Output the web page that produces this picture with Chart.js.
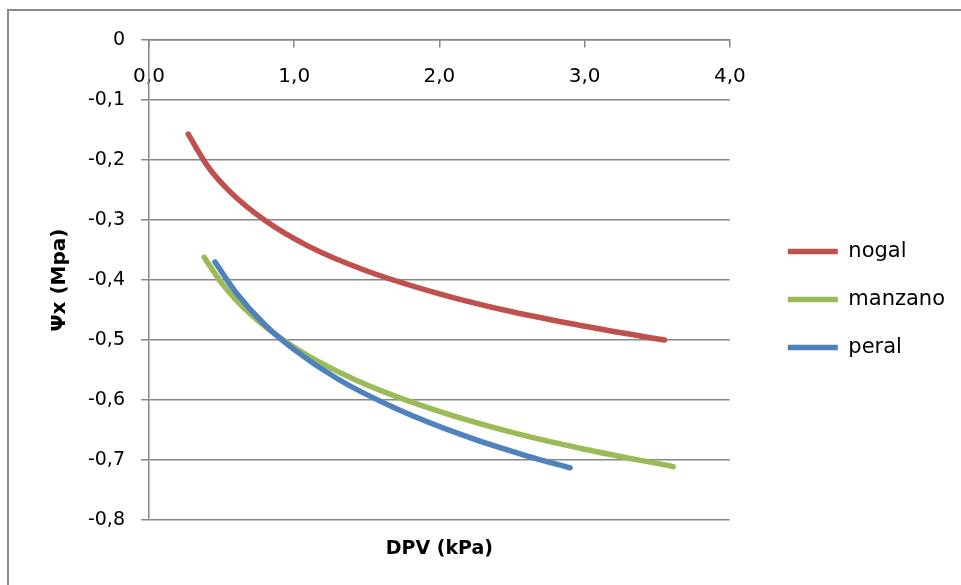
<!DOCTYPE html>
<html>
<head>
<meta charset="utf-8">
<script src="https://cdn.jsdelivr.net/npm/chart.js@4.4.1/dist/chart.umd.min.js"></script>
<style>
  html, body { margin: 0; padding: 0; background: #fff; overflow: hidden; }
  #wrap { position: absolute; left: 0; top: 0; width: 961px; height: 585px; }
</style>
</head>
<body>
<div id="wrap"><canvas id="chart"></canvas></div>
<script>
// values
const seriesNames = ['nogal', 'manzano', 'peral'];
const seriesColors = ['#C0504D', '#9BBB59', '#4F81BD'];

const nogalDpv = [0.27, 0.40, 0.55, 0.80, 1.10, 1.50, 2.00, 2.50, 3.00, 3.55];
const nogalPsi = [-0.157, -0.209, -0.251, -0.301, -0.344, -0.385, -0.423, -0.453, -0.477, -0.500];

const manzanoDpv = [0.38, 0.50, 0.70, 1.00, 1.40, 1.90, 2.50, 3.00, 3.61];
const manzanoPsi = [-0.362, -0.405, -0.457, -0.512, -0.564, -0.611, -0.654, -0.682, -0.711];

const peralDpv = [0.455, 0.60, 0.80, 1.00, 1.30, 1.70, 2.20, 2.60, 2.90];
const peralPsi = [-0.370, -0.421, -0.475, -0.516, -0.565, -0.614, -0.662, -0.693, -0.713];

const xTicks = [0, 1, 2, 3, 4];
const yTicks = [0, -0.1, -0.2, -0.3, -0.4, -0.5, -0.6, -0.7, -0.8];

const gridColor = '#868686';

function toPoints(xs, ys) {
    return xs.map((x, i) => ({ x: x, y: ys[i] }));
}

function makeDataset(i, xs, ys, order) {
    return {
        label: seriesNames[i],
        data: toPoints(xs, ys),
        borderColor: seriesColors[i],
        backgroundColor: seriesColors[i],
        borderWidth: 5.5,
        borderCapStyle: 'round',
        borderJoinStyle: 'round',
        pointStyle: 'line',
        order: order
    };
}

// x labels keep one decimal, y shows a bare 0 at the top
function fmtX(v) {
    return v.toFixed(1).replace('.', ',');
}
function fmtY(v) {
    if (Math.abs(v) < 1e-9) return '0';
    return v.toFixed(1).replace('.', ',');
}

// nudge the legend block to where the reference puts it
const legendShift = {
    id: 'legendShift',
    afterLayout(chart) {
        const lg = chart.legend;
        const dx = 31, dy = -13;
        lg.left += dx; lg.right += dx;
        lg.top += dy; lg.bottom += dy;
    }
};

// outer chart frame: only its left and top edges are inside the picture
const frame = {
    id: 'frame',
    beforeDraw(chart) {
        const c = chart.ctx;
        c.save();
        c.strokeStyle = '#8a8a8a';
        c.lineWidth = 2;
        c.beginPath();
        c.moveTo(8, chart.height);
        c.lineTo(8, 10);
        c.lineTo(chart.width, 10);
        c.stroke();
        c.restore();
    }
};

Chart.defaults.font.family = 'DejaVu Sans';
Chart.defaults.color = '#000';

const ctx = document.getElementById('chart').getContext('2d');
new Chart(ctx, {
    type: 'line',
    data: {
        datasets: [
            makeDataset(0, nogalDpv, nogalPsi, 2),
            makeDataset(1, manzanoDpv, manzanoPsi, 1),
            makeDataset(2, peralDpv, peralPsi, 0)
        ]
    },
    options: {
        responsive: true,
        maintainAspectRatio: false,
        animation: false,
        layout: { padding: { left: 0, top: 40, right: 37, bottom: 0 } },
        elements: {
            point: { radius: 0, hoverRadius: 0 },
            line: { cubicInterpolationMode: 'monotone', fill: false }
        },
        plugins: {
            tooltip: { enabled: false },
            legend: {
                position: 'right',
                labels: {
                    usePointStyle: true,
                    pointStyleWidth: 50,
                    padding: 27,
                    font: { size: 21 },
                    color: '#000',
                    sort: (a, b) => a.datasetIndex - b.datasetIndex
                }
            }
        },
        scales: {
            x: {
                type: 'linear',
                position: { y: 0 },
                min: 0,
                max: 4,
                afterBuildTicks: s => { s.ticks = xTicks.map(v => ({ value: v })); },
                ticks: { callback: v => fmtX(v), padding: 18, font: { size: 20 }, color: '#000', maxRotation: 0 },
                grid: { drawOnChartArea: false, drawTicks: true, tickLength: 7, color: gridColor, lineWidth: 1.5 },
                border: { display: true, color: gridColor, width: 1.5 }
            },
            x2: {
                type: 'linear',
                position: 'bottom',
                min: 0,
                max: 4,
                ticks: { display: false },
                grid: { display: false },
                border: { display: false },
                title: { display: true, text: 'DPV (kPa)', font: { size: 19, weight: 'bold' }, color: '#000', padding: { top: 0, bottom: 25 } },
                afterFit: s => { s.height = 65; }
            },
            y: {
                type: 'linear',
                min: -0.8,
                max: 0,
                afterBuildTicks: s => { s.ticks = yTicks.map(v => ({ value: v })); },
                ticks: { callback: v => fmtY(v), padding: 16, font: { size: 19 }, color: '#000' },
                grid: { color: gridColor, lineWidth: 1.5, tickLength: 8 },
                border: { display: true, color: gridColor, width: 1.5 },
                title: { display: true, text: 'Ψx (Mpa)', font: { size: 20, weight: 'bold' }, color: '#000', padding: { top: 48, bottom: 0 } },
                afterFit: s => { s.width = 149; }
            }
        }
    },
    plugins: [legendShift, frame]
});
</script>
</body>
</html>
